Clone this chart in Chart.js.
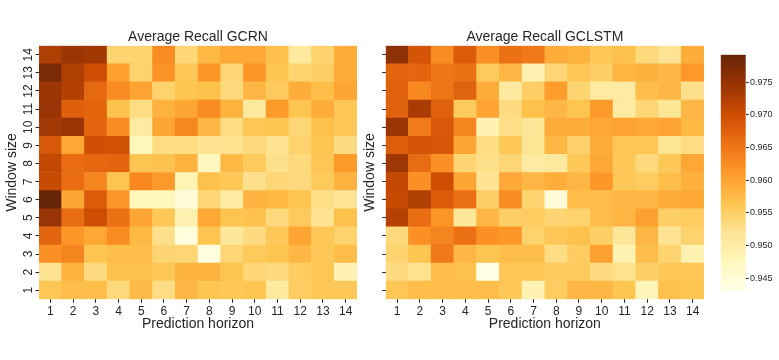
<!DOCTYPE html>
<html>
<head>
<meta charset="utf-8">
<script src="https://cdn.jsdelivr.net/npm/chart.js@4"></script>
<style>
  body { margin: 0; background: #fff; }
  .box { position: absolute; top: 0; height: 360px; }
</style>
</head>
<body>
<div class="box" style="left:0;width:365px"><canvas id="gcrnChart"></canvas></div>
<div class="box" style="left:355px;width:360px"><canvas id="gclstmChart"></canvas></div>
<div class="box" style="left:700px;width:79px"><canvas id="colorBar"></canvas></div>
<script>
// Data

const horizons = ['1', '2', '3', '4', '5', '6', '7', '8', '9', '10', '11', '12', '13', '14'];
const windowSizes = ['1', '2', '3', '4', '5', '6', '7', '8', '9', '10', '11', '12', '13', '14'];

// rows listed top to bottom, window 14 first
const gcrnRecall = [
    [0.9727, 0.9745, 0.9740, 0.9543, 0.9543, 0.9626, 0.9540, 0.9579, 0.9597, 0.9597, 0.9571, 0.9508, 0.9545, 0.9590],
    [0.9774, 0.9727, 0.9700, 0.9605, 0.9546, 0.9618, 0.9560, 0.9615, 0.9540, 0.9614, 0.9565, 0.9543, 0.9550, 0.9590],
    [0.9745, 0.9725, 0.9665, 0.9627, 0.9600, 0.9546, 0.9565, 0.9570, 0.9535, 0.9580, 0.9557, 0.9590, 0.9572, 0.9598],
    [0.9747, 0.9677, 0.9671, 0.9570, 0.9532, 0.9585, 0.9598, 0.9625, 0.9584, 0.9508, 0.9610, 0.9565, 0.9590, 0.9563],
    [0.9738, 0.9745, 0.9670, 0.9625, 0.9505, 0.9598, 0.9630, 0.9580, 0.9532, 0.9563, 0.9566, 0.9540, 0.9570, 0.9560],
    [0.9687, 0.9597, 0.9697, 0.9696, 0.9477, 0.9530, 0.9532, 0.9520, 0.9522, 0.9537, 0.9520, 0.9545, 0.9565, 0.9533],
    [0.9710, 0.9660, 0.9667, 0.9670, 0.9565, 0.9567, 0.9585, 0.9475, 0.9578, 0.9558, 0.9525, 0.9535, 0.9563, 0.9610],
    [0.9706, 0.9660, 0.9632, 0.9566, 0.9630, 0.9610, 0.9484, 0.9570, 0.9560, 0.9525, 0.9540, 0.9537, 0.9558, 0.9585],
    [0.9792, 0.9598, 0.9680, 0.9616, 0.9478, 0.9478, 0.9445, 0.9540, 0.9506, 0.9583, 0.9578, 0.9566, 0.9528, 0.9518],
    [0.9747, 0.9662, 0.9700, 0.9657, 0.9599, 0.9560, 0.9490, 0.9596, 0.9566, 0.9569, 0.9535, 0.9557, 0.9520, 0.9570],
    [0.9670, 0.9615, 0.9597, 0.9626, 0.9578, 0.9525, 0.9441, 0.9566, 0.9513, 0.9533, 0.9560, 0.9599, 0.9560, 0.9546],
    [0.9620, 0.9633, 0.9565, 0.9572, 0.9573, 0.9542, 0.9540, 0.9442, 0.9540, 0.9558, 0.9565, 0.9580, 0.9560, 0.9573],
    [0.9520, 0.9584, 0.9533, 0.9570, 0.9570, 0.9560, 0.9583, 0.9583, 0.9565, 0.9540, 0.9534, 0.9555, 0.9563, 0.9487],
    [0.9563, 0.9573, 0.9572, 0.9536, 0.9577, 0.9530, 0.9580, 0.9565, 0.9560, 0.9565, 0.9507, 0.9555, 0.9560, 0.9560],
];

const gclstmRecall = [
    [0.9757, 0.9690, 0.9626, 0.9680, 0.9620, 0.9657, 0.9647, 0.9590, 0.9585, 0.9560, 0.9570, 0.9537, 0.9518, 0.9590],
    [0.9670, 0.9670, 0.9650, 0.9657, 0.9557, 0.9580, 0.9488, 0.9540, 0.9560, 0.9550, 0.9582, 0.9587, 0.9580, 0.9612],
    [0.9675, 0.9630, 0.9650, 0.9673, 0.9590, 0.9507, 0.9550, 0.9608, 0.9542, 0.9506, 0.9506, 0.9573, 0.9580, 0.9525],
    [0.9675, 0.9733, 0.9675, 0.9557, 0.9599, 0.9533, 0.9570, 0.9580, 0.9566, 0.9610, 0.9506, 0.9540, 0.9515, 0.9580],
    [0.9745, 0.9645, 0.9685, 0.9632, 0.9489, 0.9529, 0.9514, 0.9590, 0.9590, 0.9597, 0.9602, 0.9597, 0.9600, 0.9578],
    [0.9678, 0.9690, 0.9688, 0.9599, 0.9530, 0.9560, 0.9517, 0.9580, 0.9548, 0.9590, 0.9563, 0.9563, 0.9517, 0.9530],
    [0.9742, 0.9662, 0.9620, 0.9542, 0.9526, 0.9540, 0.9506, 0.9507, 0.9560, 0.9595, 0.9560, 0.9536, 0.9560, 0.9597],
    [0.9710, 0.9620, 0.9700, 0.9599, 0.9520, 0.9595, 0.9580, 0.9590, 0.9580, 0.9614, 0.9560, 0.9555, 0.9572, 0.9588],
    [0.9705, 0.9727, 0.9680, 0.9657, 0.9550, 0.9625, 0.9543, 0.9445, 0.9573, 0.9573, 0.9580, 0.9580, 0.9590, 0.9596],
    [0.9722, 0.9660, 0.9617, 0.9513, 0.9580, 0.9550, 0.9555, 0.9542, 0.9546, 0.9573, 0.9582, 0.9603, 0.9550, 0.9555],
    [0.9536, 0.9620, 0.9634, 0.9657, 0.9620, 0.9614, 0.9546, 0.9560, 0.9570, 0.9550, 0.9514, 0.9580, 0.9518, 0.9546],
    [0.9544, 0.9565, 0.9646, 0.9580, 0.9565, 0.9573, 0.9573, 0.9530, 0.9555, 0.9603, 0.9485, 0.9573, 0.9544, 0.9490],
    [0.9533, 0.9523, 0.9573, 0.9570, 0.9431, 0.9563, 0.9563, 0.9557, 0.9557, 0.9533, 0.9523, 0.9550, 0.9560, 0.9563],
    [0.9563, 0.9573, 0.9573, 0.9573, 0.9573, 0.9560, 0.9487, 0.9555, 0.9580, 0.9580, 0.9565, 0.9480, 0.9570, 0.9565],
];

const colorBarTicks = [0.945, 0.950, 0.955, 0.960, 0.965, 0.970, 0.975];

// Colour map (YlOrBr)

const ylOrBr = ["#ffffe5", "#fff7bc", "#fee391", "#fec44f", "#fe9929", "#ec7014", "#cc4c02", "#993404", "#662506"];
const ink = "#262626";
const fontFamily = "'Liberation Sans', Arial, sans-serif";

const allValues = gcrnRecall.flat().concat(gclstmRecall.flat());
const vmin = Math.min(...allValues);
const vmax = Math.max(...allValues);

const stops = ylOrBr.map(h => [1, 3, 5].map(i => parseInt(h.slice(i, i + 2), 16)));

function recallColor(v) {
    const t = Math.max(0, Math.min(1, (v - vmin) / (vmax - vmin)));
    const p = t * (stops.length - 1);
    const i = Math.min(Math.floor(p), stops.length - 2);
    const f = p - i;
    const c = stops[i].map((a, k) => Math.round(a + (stops[i + 1][k] - a) * f));
    return `rgb(${c.join(',')})`;
}

function heatDatasets(grid) {
    return windowSizes.map((w, r) => {
        const row = grid[windowSizes.length - 1 - r];
        return {
            label: 'Window ' + w,
            data: row.map(() => 1),
            backgroundColor: row.map(recallColor),
            borderWidth: 0,
            barPercentage: 1,
            categoryPercentage: 1,
        };
    });
}

function heatOptions(title, yWidth, yTitlePad, showYLabels, rightPad) {
    return {
        responsive: true,
        maintainAspectRatio: false,
        animation: false,
        layout: { padding: { left: 0, right: rightPad, top: 0, bottom: 0 } },
        plugins: {
            legend: { display: false },
            tooltip: { enabled: false },
            title: {
                display: true,
                text: title,
                fullSize: false,
                color: ink,
                font: { family: fontFamily, size: 14, weight: 'normal' },
                padding: { top: 28.6, bottom: 0.3 },
            },
        },
        scales: {
            x: {
                stacked: true,
                grid: { offset: false, drawOnChartArea: false, tickLength: 3.5, tickColor: ink, tickWidth: 1 },
                border: { display: false },
                ticks: { color: ink, font: { family: fontFamily, size: 12 }, padding: 1.5, maxRotation: 0, autoSkip: false },
                title: {
                    display: true,
                    text: 'Prediction horizon',
                    color: ink,
                    font: { family: fontFamily, size: 14 },
                    padding: { top: 0, bottom: 27.1 },
                },
                afterFit: s => { s.height = 60.7; },
            },
            y: {
                stacked: true,
                min: 0,
                max: 14,
                afterBuildTicks: s => { s.ticks = windowSizes.map((w, i) => ({ value: i + 0.5 })); },
                grid: { drawOnChartArea: false, tickLength: 3.5, tickColor: ink, tickWidth: 1 },
                border: { display: false },
                ticks: {
                    display: showYLabels,
                    callback: (v, i) => windowSizes[i],
                    minRotation: 90,
                    maxRotation: 90,
                    crossAlign: 'center',
                    padding: 0.5,
                    color: ink,
                    font: { family: fontFamily, size: 12 },
                },
                title: {
                    display: true,
                    text: 'Window size',
                    color: ink,
                    font: { family: fontFamily, size: 14 },
                    padding: { top: yTitlePad, bottom: 0 },
                },
                afterFit: s => { s.width = yWidth; },
            },
        },
    };
}

// Charts

const gcrnChart = new Chart(document.getElementById('gcrnChart'), {
    type: 'bar',
    data: { labels: horizons, datasets: heatDatasets(gcrnRecall) },
    options: heatOptions('Average Recall GCRN', 39, 3.6, true, 8),
});

const gclstmChart = new Chart(document.getElementById('gclstmChart'), {
    type: 'bar',
    data: { labels: horizons, datasets: heatDatasets(gclstmRecall) },
    options: heatOptions('Average Recall GCLSTM', 30.7, 6.6, false, 11),
});

const colorBar = new Chart(document.getElementById('colorBar'), {
    type: 'bar',
    data: {
        labels: [''],
        datasets: [{
            data: [[vmin, vmax]],
            backgroundColor: ctx => {
                const area = ctx.chart.chartArea;
                if (!area) return null;
                const g = ctx.chart.ctx.createLinearGradient(0, area.bottom, 0, area.top);
                ylOrBr.forEach((c, i) => g.addColorStop(i / (ylOrBr.length - 1), c));
                return g;
            },
            borderWidth: 0,
            barPercentage: 1,
            categoryPercentage: 1,
        }],
    },
    options: {
        responsive: true,
        maintainAspectRatio: false,
        animation: false,
        layout: { padding: { left: 20.7, right: 0, top: 54.7, bottom: 69.3 } },
        plugins: { legend: { display: false }, tooltip: { enabled: false } },
        scales: {
            x: { display: false },
            y: {
                position: 'right',
                min: vmin,
                max: vmax,
                afterBuildTicks: s => { s.ticks = colorBarTicks.map(v => ({ value: v })); },
                grid: { drawOnChartArea: false, tickLength: 3, tickColor: ink, tickWidth: 1 },
                border: { display: false },
                ticks: {
                    callback: v => v.toFixed(3),
                    color: ink,
                    padding: 1.3,
                    font: { family: fontFamily, size: 9 },
                },
                afterFit: s => { s.width = 33.3; },
            },
        },
    },
});
</script>
</body>
</html>
